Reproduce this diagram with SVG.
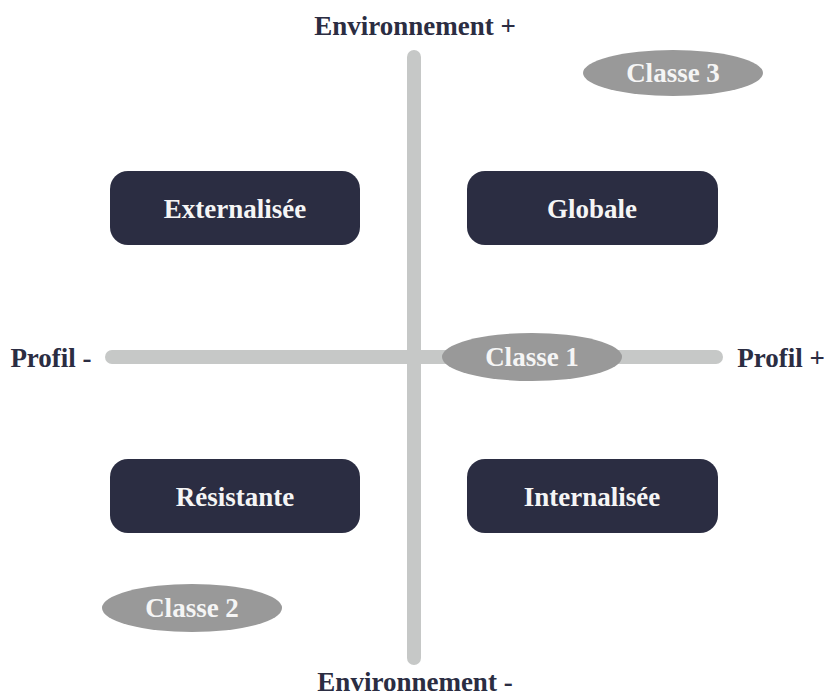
<svg xmlns="http://www.w3.org/2000/svg" width="824" height="699" viewBox="0 0 824 699">
<style>
.axis{stroke:#c6c8c7;stroke-width:14;stroke-linecap:round;fill:none}
.box{fill:#2b2d42}
.ell{fill:#999999}
.t{font-family:"Liberation Serif",serif;font-weight:bold;font-size:27px;text-anchor:middle;dominant-baseline:central}
.w{fill:#f5f5f5}
.d{fill:#2b2d42}
</style>
<rect width="824" height="699" fill="#ffffff"/>
<g id="connectors">
<line class="axis" x1="414" y1="57" x2="414" y2="658"/>
<line class="axis" x1="112" y1="357" x2="716" y2="357"/>
</g>
<g id="env-plus"><text class="t d" x="415" y="26">Environnement +</text></g>
<g id="env-minus"><text class="t d" x="415" y="682">Environnement -</text></g>
<g id="profil-minus"><text class="t d" x="51" y="358">Profil -</text></g>
<g id="profil-plus"><text class="t d" x="781" y="358">Profil +</text></g>
<g id="externalisee"><rect class="box" x="110" y="171" width="250" height="74" rx="18"/><text class="t w" x="235" y="209">Externalisée</text></g>
<g id="globale"><rect class="box" x="467" y="171" width="251" height="74" rx="18"/><text class="t w" x="592" y="209">Globale</text></g>
<g id="resistante"><rect class="box" x="110" y="459" width="250" height="74" rx="18"/><text class="t w" x="235" y="497">Résistante</text></g>
<g id="internalisee"><rect class="box" x="467" y="459" width="251" height="74" rx="18"/><text class="t w" x="592" y="497">Internalisée</text></g>
<g id="classe3"><ellipse class="ell" cx="673" cy="73" rx="90" ry="23"/><text class="t w" x="673" y="73">Classe 3</text></g>
<g id="classe1"><ellipse class="ell" cx="532" cy="357" rx="90" ry="24"/><text class="t w" x="532" y="357">Classe 1</text></g>
<g id="classe2"><ellipse class="ell" cx="192" cy="608" rx="90" ry="24"/><text class="t w" x="192" y="608">Classe 2</text></g>
</svg>
